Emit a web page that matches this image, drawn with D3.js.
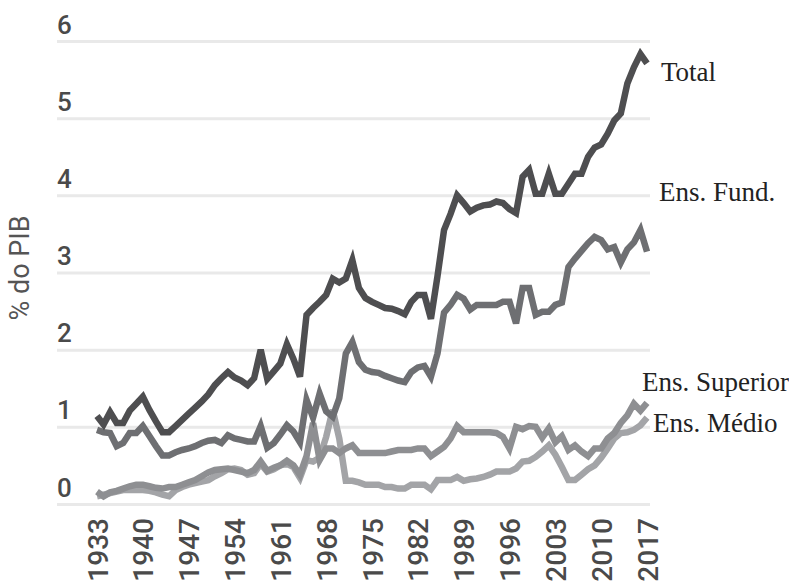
<!DOCTYPE html>
<html lang="pt">
<head>
<meta charset="UTF-8">
<title>Gasto em educação, % do PIB</title>
<script src="https://d3js.org/d3.v7.min.js"></script>
<style>
  body { margin: 0; background: #fff; }
  .tick text { fill: #4a4a4a; font-family: Roboto, sans-serif; font-weight: 500; }
  .serie-label { font-family: "Liberation Serif", serif; font-size: 27px; fill: #222; }
</style>
</head>
<body>
<div id="chart"></div>
<script>
// anos 1933..2017
var anos = d3.range(1933, 2018);

var total = [1.14,1.03,1.19,1.05,1.05,1.21,1.30,1.39,1.22,1.07,
  0.93,0.93,1.01,1.09,1.17,1.25,1.33,1.42,1.54,1.63,
  1.71,1.64,1.60,1.54,1.63,2.00,1.62,1.72,1.82,2.07,
  1.88,1.65,2.45,2.54,2.62,2.71,2.92,2.87,2.92,3.16,
  2.80,2.67,2.62,2.58,2.54,2.53,2.50,2.46,2.62,2.71,
  2.71,2.40,2.95,3.55,3.76,4.00,3.90,3.79,3.84,3.87,
  3.88,3.92,3.90,3.82,3.77,4.24,4.33,4.02,4.02,4.28,
  4.02,4.02,4.15,4.28,4.28,4.50,4.62,4.66,4.80,4.97,
  5.06,5.45,5.66,5.83,5.71];

var fund = [0.96,0.93,0.92,0.75,0.79,0.92,0.92,1.01,0.88,0.75,
  0.63,0.63,0.67,0.70,0.72,0.75,0.79,0.82,0.83,0.79,
  0.89,0.85,0.83,0.81,0.81,1.01,0.73,0.79,0.90,1.02,
  0.94,0.80,1.35,1.12,1.43,1.20,1.13,1.37,1.95,2.10,
  1.84,1.74,1.71,1.70,1.66,1.63,1.60,1.58,1.71,1.77,
  1.79,1.65,1.95,2.48,2.58,2.71,2.66,2.52,2.58,2.58,
  2.58,2.58,2.62,2.62,2.34,2.80,2.80,2.45,2.49,2.49,
  2.58,2.61,3.07,3.18,3.28,3.38,3.46,3.42,3.30,3.33,
  3.13,3.30,3.39,3.55,3.27];

var superior = [0.16,0.10,0.15,0.17,0.20,0.23,0.25,0.25,0.23,0.21,
  0.20,0.22,0.22,0.25,0.28,0.31,0.36,0.41,0.44,0.45,
  0.46,0.44,0.42,0.40,0.44,0.55,0.43,0.47,0.50,0.56,
  0.50,0.38,0.62,1.05,0.57,0.72,0.72,0.66,0.72,0.76,
  0.66,0.66,0.66,0.66,0.66,0.68,0.70,0.70,0.70,0.72,
  0.72,0.62,0.68,0.74,0.85,1.01,0.93,0.93,0.93,0.93,
  0.93,0.92,0.87,0.72,1.00,0.97,1.01,1.00,0.86,0.98,
  0.80,0.88,0.70,0.76,0.68,0.62,0.72,0.72,0.85,0.92,
  1.05,1.15,1.30,1.21,1.31];

var medio = [0.10,0.12,0.14,0.16,0.18,0.18,0.18,0.18,0.17,0.15,
  0.12,0.10,0.18,0.22,0.25,0.27,0.29,0.31,0.36,0.40,
  0.45,0.46,0.44,0.38,0.40,0.52,0.42,0.45,0.50,0.52,
  0.48,0.34,0.57,0.55,0.60,0.87,1.22,0.85,0.30,0.30,
  0.28,0.25,0.25,0.25,0.22,0.22,0.20,0.20,0.25,0.25,
  0.25,0.19,0.31,0.31,0.31,0.35,0.30,0.32,0.33,0.35,
  0.38,0.42,0.42,0.42,0.46,0.55,0.56,0.61,0.68,0.76,
  0.64,0.48,0.31,0.31,0.38,0.45,0.50,0.60,0.72,0.85,
  0.92,0.93,0.96,1.02,1.12];

var series = [
  { nome: 'Ens. Médio', valores: medio, cor: '#a3a4a7' },
  { nome: 'Ens. Superior', valores: superior, cor: '#8e8f92' },
  { nome: 'Ens. Fund.', valores: fund, cor: '#6e6f72' },
  { nome: 'Total', valores: total, cor: '#4e4e50' }
];

var yTicks = [0, 1, 2, 3, 4, 5, 6];
var xTicks = [1933, 1940, 1947, 1954, 1961, 1968, 1975, 1982, 1989, 1996, 2003, 2010, 2017];

var width = 789, height = 584;

var x = d3.scaleLinear().domain([1933, 2017]).range([97, 647]);
var y = d3.scaleLinear().domain([0, 6]).range([504, 41]);

var svg = d3.select('#chart').append('svg')
  .attr('width', width)
  .attr('height', height);

// eixo y: grade + rótulos acima da linha
var yAxis = d3.axisRight(y).tickValues(yTicks).tickSize(593).tickFormat(d3.format('d'));
var gy = svg.append('g').attr('transform', 'translate(57,0)').call(yAxis);
gy.select('.domain').remove();
gy.selectAll('.tick line').attr('stroke', '#e9e9e9').attr('stroke-width', 3);
gy.selectAll('.tick text')
  .attr('x', 0).attr('dy', -8)
  .attr('text-anchor', 'start')
  .style('font-size', '26px');

svg.append('text')
  .attr('transform', 'translate(29,268) rotate(-90)')
  .attr('text-anchor', 'middle')
  .style('font-family', 'Roboto, sans-serif')
  .style('font-size', '27px')
  .style('fill', '#555')
  .text('% do PIB');

// eixo x
var xAxis = d3.axisBottom(x).tickValues(xTicks).tickSize(0).tickFormat(d3.format('d'));
var gx = svg.append('g').attr('transform', 'translate(0,512)').call(xAxis);
gx.select('.domain').remove();
gx.selectAll('.tick text')
  .attr('transform', 'rotate(-90)')
  .attr('text-anchor', 'end')
  .attr('x', -6).attr('y', 0).attr('dy', '0.36em')
  .style('font-size', '28px');

var line = d3.line()
  .x(function(d, i) { return x(anos[i]); })
  .y(function(d) { return y(d); });

svg.selectAll('path.serie').data(series).enter().append('path')
  .attr('class', 'serie')
  .attr('d', function(s) { return line(s.valores); })
  .attr('fill', 'none')
  .attr('stroke', function(s) { return s.cor; })
  .attr('stroke-width', 6.5)
  .attr('stroke-linejoin', 'miter')
  .attr('stroke-miterlimit', 4);

// rótulos das séries
var rotulos = [
  { nome: 'Total', x: 661, v: 5.6 },
  { nome: 'Ens. Fund.', x: 659, v: 4.04 },
  { nome: 'Ens. Superior', x: 642, v: 1.58 },
  { nome: 'Ens. Médio', x: 653, v: 1.05 }
];
svg.selectAll('text.serie-label').data(rotulos).enter().append('text')
  .attr('class', 'serie-label')
  .attr('x', function(d) { return d.x; })
  .attr('y', function(d) { return y(d.v); })
  .attr('dy', '0.33em')
  .text(function(d) { return d.nome; });
</script>
</body>
</html>
